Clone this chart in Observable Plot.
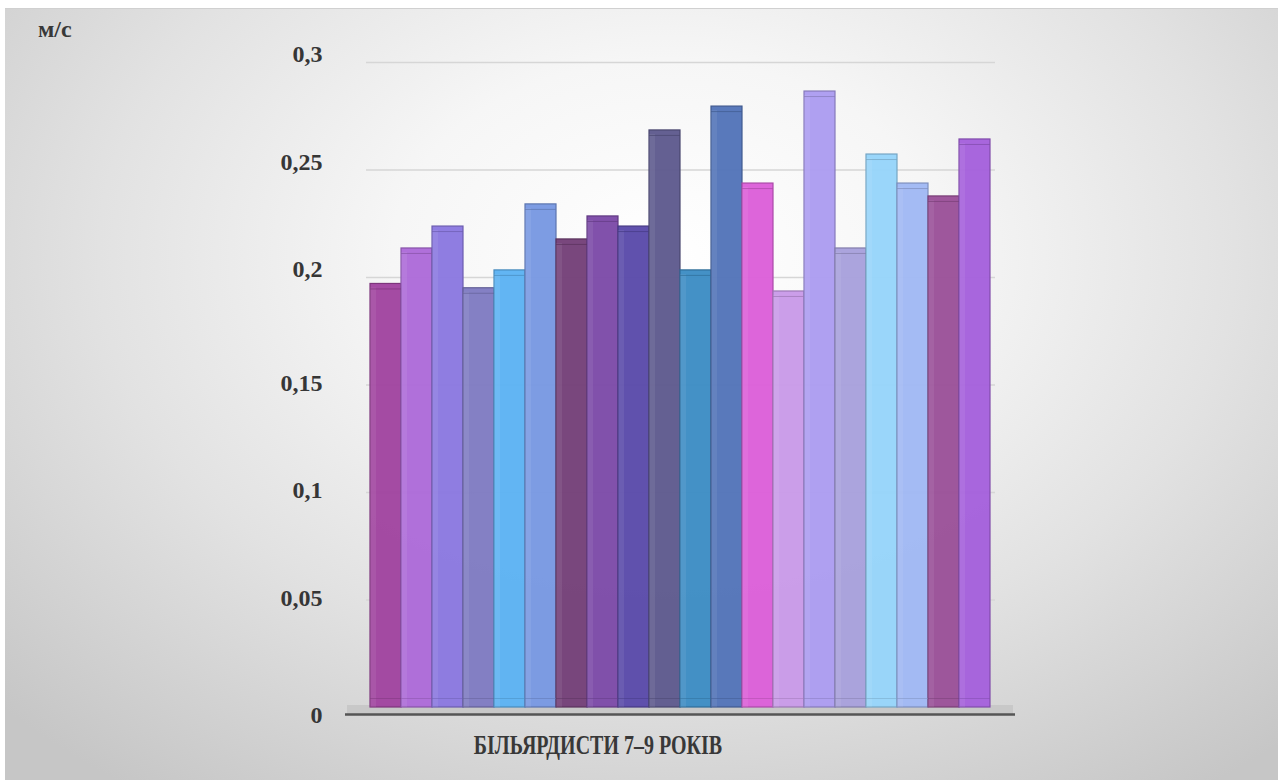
<!DOCTYPE html>
<html>
<head>
<meta charset="utf-8">
<script src="https://cdn.jsdelivr.net/npm/d3@7"></script>
<script src="https://cdn.jsdelivr.net/npm/@observablehq/plot@0.6"></script>
<style>
  html, body { margin: 0; padding: 0; background: #ffffff; width: 1278px; height: 780px; overflow: hidden; }
  #bg { position: absolute; left: 5px; top: 8px; width: 1273px; height: 772px;
        background: radial-gradient(ellipse 72% 85% at 52% 32%, #ffffff 0%, #f6f6f6 30%, #e2e2e2 62%, #c6c6c6 100%);
        border-top: 1px solid #d0d0d0; }
  #chart { position: absolute; left: 0; top: 0; }
  .lbl { position: absolute; font-family: 'Liberation Serif', serif; font-weight: bold; color: #383838; white-space: nowrap; }
  #unit { left: 38px; top: 17px; font-size: 24px; line-height: 24px; }
  #xtitle { left: 598px; top: 732px; font-size: 27px; line-height: 27px; transform: translateX(-50%) scaleX(0.74); }
</style>
</head>
<body>
<div id="bg"></div>
<div id="chart"></div>
<div class="lbl" id="unit">м/с</div>
<div class="lbl" id="xtitle">БІЛЬЯРДИСТИ 7–9 РОКІВ</div>
<script>
const athletes = ["1","2","3","4","5","6","7","8","9","10","11","12","13","14","15","16","17","18","19","20"];
const speeds = [0.197, 0.2135, 0.2237, 0.195, 0.2033, 0.234, 0.2177, 0.2284, 0.2237, 0.2684,
                0.2033, 0.2795, 0.2437, 0.1935, 0.2865, 0.2135, 0.2572, 0.2437, 0.2377, 0.2642];
const barColors = ["#a0449f", "#ad6ad8", "#8a78e0", "#7f7bc2", "#5cb2f2", "#7898e2", "#744078", "#7c4aa8", "#5a4aaa", "#5e5a8e",
                   "#3c8cc4", "#5274b8", "#dc5fd8", "#c99ae8", "#ac9cf0", "#a8a0dc", "#96d4fa", "#a0b8f4", "#9a5098", "#a460dc"];
const yTicks = [0, 0.05, 0.1, 0.15, 0.2, 0.25, 0.3];

const data = athletes.map((a, i) => ({
  id: a,
  v: speeds[i],
  color: barColors[i],
  edge: d3.color(barColors[i]).darker(0.7).formatHex()
}));

const fmt = d => d3.format("")(d).replace(".", ",");
const tickFont = {fontSize: 24, fontWeight: "bold", fontFamily: "'Liberation Serif', serif", fill: "#363636", tickSize: 0, tickPadding: 40, tickFormat: fmt, textAnchor: "end", label: null};

const chart = Plot.plot({
  width: 1278,
  height: 780,
  marginLeft: 362,
  marginRight: 281,
  marginTop: 0,
  marginBottom: 73,
  style: {background: "transparent", overflow: "visible", fontFamily: "'Liberation Serif', serif"},
  x: {domain: athletes, padding: 0, axis: null, range: [362, 997]},
  y: {domain: [0, 0.3], range: [707, 62], axis: null, label: null},
  marks: [
    // back gridlines
    Plot.ruleY(yTicks.filter(t => t > 0), {stroke: "#d6d6d6", strokeWidth: 1.5, insetLeft: 4, insetRight: 2}),
    // floor
    Plot.ruleY([0], {stroke: "#c8c8c8", strokeWidth: 9, dy: 2, insetLeft: -15, insetRight: -16}),
    Plot.ruleY([0], {stroke: "#555555", strokeWidth: 2.5, dy: 7, insetLeft: -17, insetRight: -18}),
    // bars
    Plot.barY(data, {x: "id", y: "v", fill: "color", stroke: "edge", strokeWidth: 1.2, fillOpacity: 0.96}),
    // 3D side strip
    Plot.barY(data, {x: "id", y: "v", fill: "#ffffff", fillOpacity: 0.07, insetRight: 25, insetTop: 4}),
    // front top edge
    Plot.tickY(data, {x: "id", y: "v", stroke: "edge", strokeOpacity: 0.7, strokeWidth: 1, dy: 5}),
    // bottom face line
    Plot.tickY(data, {x: "id", y: d => 0, stroke: "edge", strokeOpacity: 0.5, strokeWidth: 1, dy: -9}),
    // tick labels (front plane, slight perspective offsets)
    Plot.axisY([0.2, 0.25, 0.3], {...tickFont, dy: -8}),
    Plot.axisY([0.05, 0.1, 0.15], {...tickFont, dy: -2}),
    Plot.axisY([0], {...tickFont, dy: 8})
  ]
});
document.getElementById("chart").appendChild(chart);
</script>
</body>
</html>
